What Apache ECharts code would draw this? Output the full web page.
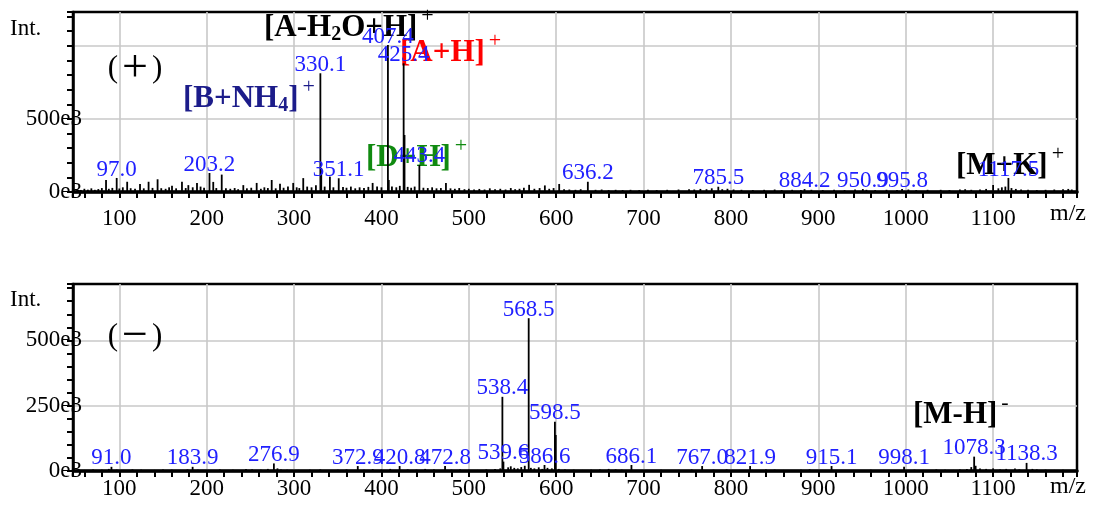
<!DOCTYPE html>
<html><head><meta charset="utf-8">
<script src="https://cdn.jsdelivr.net/npm/echarts@6/dist/echarts.min.js"></script>
<style>html,body{margin:0;padding:0;background:#fff}#c{width:1093px;height:509px}</style>
</head><body><div id="c"></div>
<script>
// ---- data: positive mode (+) ----
const posLabelMz  = [97.0, 203.2, 330.1, 351.1, 407.4, 425.4, 443.4, 636.2, 785.5, 884.2, 950.9, 995.8, 1117.5];
const posLabelInt = [96e3, 130e3, 812e3, 94e3, 1005e3, 880e3, 185e3, 70e3, 36e3, 20e3, 20e3, 20e3, 96e3];
const posMinorMz  = [52,56,60,64,68,72,76,80,84.8,88,92,100,104,109,113,118,123.7,128,133.5,138,143.8,148,153,157,160.3,165,171.7,176,179,184,188.9,193,197,207.5,211,217.2,222,227,232,236,241.9,246,251,257.2,262,266,270,274.4,279,283.9,288,293,299,303,306,310.5,315,320,325,331.1,335,341,345,356,360,365,370,375,380,385,389.9,395,400,408.4,412,417,421,426.4,430,434,438,448,453,458,463,468,473.8,479,484,489,495,500,506,512,518,524,530,536,542,548,553,558,563,569,575,581,587,592,597,603.4,609,615,622,628,645,652,660,668,676,685,695,705,715,727,740,752,758,765,772,778,790,796,803,812,825,838,850,858,870,880,892,905,918,930,942,955,965,978,990,1003,1012,1025,1040,1050,1062,1068,1075,1085,1092,1100,1106,1110,1114,1121,1126,1132,1140,1150,1160,1170,1180,1186,1190];
const posMinorInt = [18,14,22,16,25,15,20,27,82,22,28,24,32,70,26,22,55,25,70,28,87,26,22,32,42,25,70,27,47,32,62,37,29,69,27,119,25,22,27,19,47,25,29,62,22,32,27,82,25,57,29,37,62,32,27,95,37,32,47,164,37,105,32,35,29,37,25,32,27,35,62,37,32,82,37,32,42,390,35,29,37,29,27,32,25,27,62,25,22,27,19,22,17,21,17,25,19,22,17,27,19,22,29,49,22,27,45,22,27,55,19,17,15,19,15,17,13,15,13,15,13,15,13,15,17,19,17,21,19,25,19,22,17,15,13,15,17,13,15,13,15,13,15,13,17,15,13,15,13,17,13,15,15,13,17,19,15,17,21,48,25,32,37,27,21,17,15,13,15,17,19,21,17].map(v => v * 1e3);

// ---- data: negative mode (-) ----
const negLabelMz  = [91.0, 183.9, 276.9, 372.9, 420.8, 472.8, 538.4, 539.6, 568.5, 586.6, 598.5, 686.1, 767.0, 821.9, 915.1, 998.1, 1078.3, 1138.3];
const negLabelInt = [16e3, 16e3, 29e3, 19e3, 19e3, 19e3, 284e3, 36e3, 585e3, 23e3, 189e3, 23e3, 19e3, 19e3, 19e3, 16e3, 55e3, 31e3];
const negMinorMz  = [60,70,80,88,97,105,115,125,140,150,160,170,178,190,200,215,230,245,252,262,270,281,285,292,305,318,330,340,350,360,380,390,400,410,430,440,450,460,480,490,500,510,520,530,536,545,548,552,556,560,564,571,575,580,584,590,595,599.5,603,610,620,630,640,650,660,668,675,700,720,740,755,780,795,810,840,850,860,880,890,940,960,975,1010,1020,1035,1045,1055,1062,1070,1075,1080,1085,1092,1100,1108,1115,1125,1130,1145,1150,1160,1170,1180];
const negMinorInt = [4,6,5,8,5,4,6,5,4,6,5,4,6,5,4,6,5,8,6,5,8,10,6,5,4,5,6,4,5,6,5,7,6,8,6,5,8,6,5,6,5,4,6,8,10,14,18,12,10,15,20,12,10,14,8,12,10,138,8,6,5,4,5,6,8,6,5,4,5,4,6,5,6,4,6,5,4,5,6,4,5,4,5,4,6,5,4,6,8,15,20,10,8,10,6,8,10,6,8,6,5,4,5].map(v => v * 1e3);

// ---- axis tick labels ----
const xTickLabels = [100, 200, 300, 400, 500, 600, 700, 800, 900, 1000, 1100];
const posYTickLabels = [0, 500000];
const negYTickLabels = [0, 250000, 500000];

const SERIF = "'Liberation Serif','Times New Roman',serif";
const BLUE = '#2020ff';

function buildData(labelMz, labelInt, minorMz, minorInt) {
  const d = [];
  minorMz.forEach((m, i) => d.push({ value: [m, minorInt[i]] }));
  labelMz.forEach((m, i) => d.push({
    value: [m, labelInt[i]], name: m.toFixed(1), label: { show: true }
  }));
  return d;
}

function xAxisCfg(gridIndex, margin) {
  return {
    type: 'value', gridIndex, min: 47, max: 1196, splitNumber: 11,
    axisLine: { show: true, lineStyle: { color: '#000', width: 3.5 } },
    axisTick: { show: true, length: 6, lineStyle: { color: '#000', width: 2 } },
    minorTick: { show: true, splitNumber: 5, length: 6, lineStyle: { color: '#000', width: 2 } },
    splitLine: { show: true, showMinLine: false, showMaxLine: false, lineStyle: { color: '#c8c8c8', width: 1.6 } },
    axisLabel: {
      margin, fontSize: 23, fontFamily: SERIF, color: '#000',
      formatter: v => (Math.abs(v - Math.round(v)) < 1e-6 && xTickLabels.includes(Math.round(v))) ? String(Math.round(v)) : ''
    }
  };
}
function yAxisCfg(gridIndex, max, interval, labels) {
  return {
    type: 'value', gridIndex, min: 0, max, interval,
    axisLine: { show: true, lineStyle: { color: '#000', width: 2.5 } },
    axisTick: { show: true, length: 6, lineStyle: { color: '#000', width: 2 } },
    minorTick: { show: true, splitNumber: 5, length: 6, lineStyle: { color: '#000', width: 2 } },
    splitLine: { show: true, showMinLine: false, showMaxLine: false, lineStyle: { color: '#c8c8c8', width: 1.6 } },
    axisLabel: {
      margin: -9, fontSize: 23, fontFamily: SERIF, color: '#000',
      formatter: v => labels.includes(v) ? (v / 1000) + 'e3' : ''
    }
  };
}

const labelCfg = {
  show: false, position: 'top', distance: -3, color: BLUE,
  fontSize: 23, fontFamily: SERIF, formatter: p => p.name
};

function ann(x, y, text, color) {
  return {
    type: 'text', x, y, z: 1,
    style: {
      text, fill: color, fontSize: 31, fontWeight: 'bold', fontFamily: SERIF, lineHeight: 46,
      verticalAlign: 'middle', align: 'left',
      rich: {
        sb: { fill: color, fontSize: 20, fontWeight: 'bold', fontFamily: SERIF, verticalAlign: 'middle', padding: [14, 0, 0, 0] },
        sp: { fill: color, fontSize: 22, fontWeight: 'normal', fontFamily: SERIF, verticalAlign: 'top', lineHeight: 22, padding: [0, 0, 0, 4] }
      }
    }
  };
}
function plain(x, y, text, size) {
  return { type: 'text', x, y, z: 1,
    style: { text, fill: '#000', fontSize: size, fontFamily: SERIF, verticalAlign: 'middle', align: 'left' } };
}
function sign(x, y, s) {
  return { type: 'text', x, y, z: 1,
    style: {
      text: '{p|(}{q|' + s + '}{p|)}', align: 'center', verticalAlign: 'middle',
      rich: {
        p: { fontSize: 31, fontFamily: SERIF, fill: '#000', verticalAlign: 'middle', lineHeight: 46 },
        q: { fontSize: 46, fontFamily: SERIF, fill: '#000', verticalAlign: 'middle', lineHeight: 46, padding: [0, 4, 0, 4] }
      }
    } };
}

const chart = echarts.init(document.getElementById('c'), null, { renderer: 'canvas' });
chart.setOption({
  backgroundColor: '#fff',
  animation: false,
  grid: [
    { left: 73, top: 12, width: 1004, height: 180, show: true, borderColor: '#000', borderWidth: 2.5 },
    { left: 73, top: 284, width: 1004, height: 187, show: true, borderColor: '#000', borderWidth: 2.5 }
  ],
  xAxis: [xAxisCfg(0, 15), xAxisCfg(1, 6)],
  yAxis: [yAxisCfg(0, 1231000, 500000, posYTickLabels), yAxisCfg(1, 716000, 250000, negYTickLabels)],
  series: [
    { type: 'bar', xAxisIndex: 0, yAxisIndex: 0, barWidth: 1.8, z: 3,
      itemStyle: { color: '#000' }, label: labelCfg,
      data: buildData(posLabelMz, posLabelInt, posMinorMz, posMinorInt) },
    { type: 'bar', xAxisIndex: 1, yAxisIndex: 1, barWidth: 1.8, z: 3,
      itemStyle: { color: '#000' }, label: labelCfg,
      data: buildData(negLabelMz, negLabelInt, negMinorMz, negMinorInt) }
  ],
  graphic: [
    plain(10, 29, 'Int.', 23),
    plain(10, 300, 'Int.', 23),
    plain(1050, 214, 'm/z', 24),
    plain(1050, 487, 'm/z', 24),
    sign(135, 69, '+'),
    sign(135, 337, '\u2212'),
    ann(264, 28, '[A-H{sb|2}O+H]{sp|+}', '#000'),
    ann(400, 53, '[A+H]{sp|+}', '#ff0000'),
    ann(183, 99, '[B+NH{sb|4}]{sp|+}', '#1c1c8a'),
    ann(366, 158, '[D+H]{sp|+}', '#108a10'),
    ann(956, 166, '[M+K]{sp|+}', '#000'),
    ann(913, 415, '[M-H]{sp|-}', '#000')
  ]
});
</script>
</body></html>
